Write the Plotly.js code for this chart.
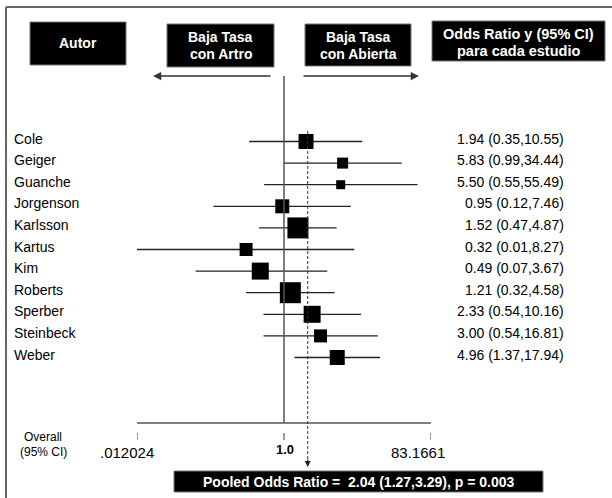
<!DOCTYPE html>
<html><head><meta charset="utf-8">
<script src="https://cdn.plot.ly/plotly-3.0.1.min.js"></script>
<style>html,body{margin:0;padding:0;background:#fff}#chart{width:612px;height:498px}</style>
</head><body><div id="chart"></div>
<script>
// ---- data ----
const authors = ['Cole','Geiger','Guanche','Jorgenson','Karlsson','Kartus','Kim','Roberts','Sperber','Steinbeck','Weber'];
const oddsRatio = [1.94, 5.83, 5.50, 0.95, 1.52, 0.32, 0.49, 1.21, 2.33, 3.00, 4.96];
const ciLow     = [0.35, 0.99, 0.55, 0.12, 0.47, 0.01, 0.07, 0.32, 0.54, 0.54, 1.37];
const ciHigh    = [10.55, 34.44, 55.49, 7.46, 4.87, 8.27, 3.67, 4.58, 10.16, 16.81, 17.94];
const weights   = [15, 11, 9, 14, 21, 13, 17, 21, 17, 13, 15];
const pooled    = [2.04, 1.27, 3.29];
const pooledP   = '0.003';
const axisLimits = [0.012024, 83.1661];
const tickVals  = [0.012024, 1, 83.1661];
const tickText  = ['.012024', '1.0', '83.1661'];

// ---- geometry helpers ----
const W = 612, H = 498;
const px = p => p / W;
const py = p => 1 - p / H;
const row0 = 141.5, rowStep = 21.6;
const yTop = -row0 / rowStep, yBot = yTop + H / rowStep;
const FONT = 'Liberation Sans, Arial, Helvetica, sans-serif';
const L10 = Math.log10;

const rows = authors.map((_, i) => i);

// CI lines
const ciX = [], ciY = [];
rows.forEach(i => { ciX.push(ciLow[i], ciHigh[i], null); ciY.push(i, i, null); });

const traces = [
  {type:'scatter', mode:'lines', x:ciX, y:ciY, line:{color:'#222', width:1.3}, hoverinfo:'skip', showlegend:false},
  {type:'scatter', mode:'markers', x:oddsRatio, y:rows,
   marker:{symbol:'square', size:weights, color:'#000', opacity:1, line:{width:0}}, showlegend:false,
   text:authors, hoverinfo:'text+x'}
];

const shapes = [];
const rect = (x0,y0,x1,y1) => shapes.push({type:'rect', xref:'paper', yref:'paper',
  x0:px(x0), x1:px(x1), y0:py(y1), y1:py(y0), fillcolor:'#000', line:{color:'#777', width:1}, layer:'below'});
// frame
shapes.push({type:'line', xref:'paper', yref:'paper', x0:px(6), x1:px(6), y0:py(7), y1:0, line:{color:'#666', width:2}});
shapes.push({type:'line', xref:'paper', yref:'paper', x0:px(6), x1:1, y0:py(7), y1:py(7), line:{color:'#666', width:2}});
// header boxes
rect(30,22,126,65);
rect(167,24,274,67);
rect(305,24,411,66);
rect(432,21,605,61);
// pooled box
rect(174,471,543,492);
// reference line at OR = 1
shapes.push({type:'line', xref:'x', yref:'paper', x0:1, x1:1, y0:py(76), y1:py(423), line:{color:'#555', width:1.5}});
// axis line
shapes.push({type:'line', xref:'x', yref:'paper', x0:axisLimits[0], x1:axisLimits[1], y0:py(423), y1:py(423), line:{color:'#555', width:1.5}});
// ticks
tickVals.forEach(v => shapes.push({type:'line', xref:'x', yref:'paper', x0:v, x1:v, y0:py(433), y1:py(440), line:{color:'#555', width:1.2}}));
// dashed pooled line
shapes.push({type:'line', xref:'x', yref:'paper', x0:pooled[0], x1:pooled[0], y0:py(131), y1:py(460), line:{color:'#333', width:1, dash:'3px,2px'}});

const annotations = [];
const txt = (x, y, text, size, opts={}) => annotations.push(Object.assign({
  xref:'paper', yref:'paper', x:px(x), y:py(y), text:text, showarrow:false,
  xanchor:'center', yanchor:'middle', font:{family:FONT, size:size, color:'#000'}}, opts));

// author names and OR labels
rows.forEach(i => {
  annotations.push({xref:'paper', yref:'y', x:px(12), y:i, yshift:3, text:authors[i], showarrow:false,
    xanchor:'left', yanchor:'middle', font:{family:FONT, size:14, color:'#000'}});
  annotations.push({xref:'paper', yref:'y', x:px(566), y:i, yshift:3,
    text: oddsRatio[i].toFixed(2) + ' (' + ciLow[i].toFixed(2) + ',' + ciHigh[i].toFixed(2) + ')',
    showarrow:false, xanchor:'right', yanchor:'middle', font:{family:FONT, size:14, color:'#000'}});
});

// headers
const white = (x,y,t,s) => txt(x,y,t,s,{font:{family:FONT, size:s, color:'#fff', weight:'bold'}});
white(78, 43.5, 'Autor', 14);
white(220.5, 36.5, 'Baja Tasa', 14);
white(220.5, 54, 'con Artro', 14);
white(358, 36.5, 'Baja Tasa', 14);
white(358, 53.5, 'con Abierta', 14);
white(518.5, 34.5, 'Odds Ratio y (95% CI)', 14.5);
white(518.5, 50.5, 'para cada estudio', 14.5);

// direction arrows
annotations.push({xref:'paper', yref:'paper', x:px(153), y:py(76), ax:119, ay:0, text:'', showarrow:true,
  arrowhead:2, arrowsize:1.1, arrowwidth:1.5, arrowcolor:'#333', standoff:0});
annotations.push({xref:'paper', yref:'paper', x:px(419), y:py(76), ax:-117, ay:0, text:'', showarrow:true,
  arrowhead:2, arrowsize:1.1, arrowwidth:1.5, arrowcolor:'#333', standoff:0});
// pooled arrow head
annotations.push({xref:'x', yref:'paper', x:L10(pooled[0]), y:py(467), ax:0, ay:-9, text:'', showarrow:true,
  arrowhead:2, arrowsize:1, arrowwidth:1.2, arrowcolor:'#222', standoff:0});

// tick labels
const tickShift = [-10, 1, -13];
const tickBold = [false, true, false];
tickVals.forEach((v, k) => annotations.push({xref:'x', yref:'paper', x:L10(v), y:py(tickBold[k] ? 449.5 : 452),
  xshift:tickShift[k], text:tickText[k], showarrow:false, xanchor:'center', yanchor:'middle',
  font:{family:FONT, size:tickBold[k] ? 13 : 15, color:'#000', weight:tickBold[k] ? 'bold' : 'normal'}}));

// overall label
txt(43, 436.5, 'Overall', 12);
txt(43, 451.5, '(95% CI)', 12);

// pooled text
white(358.5, 481.5, 'Pooled Odds Ratio =\u00a0 ' + pooled[0].toFixed(2) + ' (' + pooled[1].toFixed(2) + ',' + pooled[2].toFixed(2) + '), p = ' + pooledP, 14);

const layout = {
  width:W, height:H, margin:{l:0, r:0, t:0, b:0, pad:0},
  paper_bgcolor:'#fff', plot_bgcolor:'rgba(0,0,0,0)', showlegend:false,
  xaxis:{type:'log', domain:[137/W, 431/W], range:[L10(axisLimits[0]), L10(axisLimits[1])],
         showgrid:false, zeroline:false, showline:false, showticklabels:false, ticks:'', fixedrange:true},
  yaxis:{domain:[0,1], range:[yBot, yTop], showgrid:false, zeroline:false, showline:false,
         showticklabels:false, ticks:'', fixedrange:true},
  shapes:shapes, annotations:annotations
};

Plotly.newPlot('chart', traces, layout, {displayModeBar:false, staticPlot:true});
</script></body></html>
